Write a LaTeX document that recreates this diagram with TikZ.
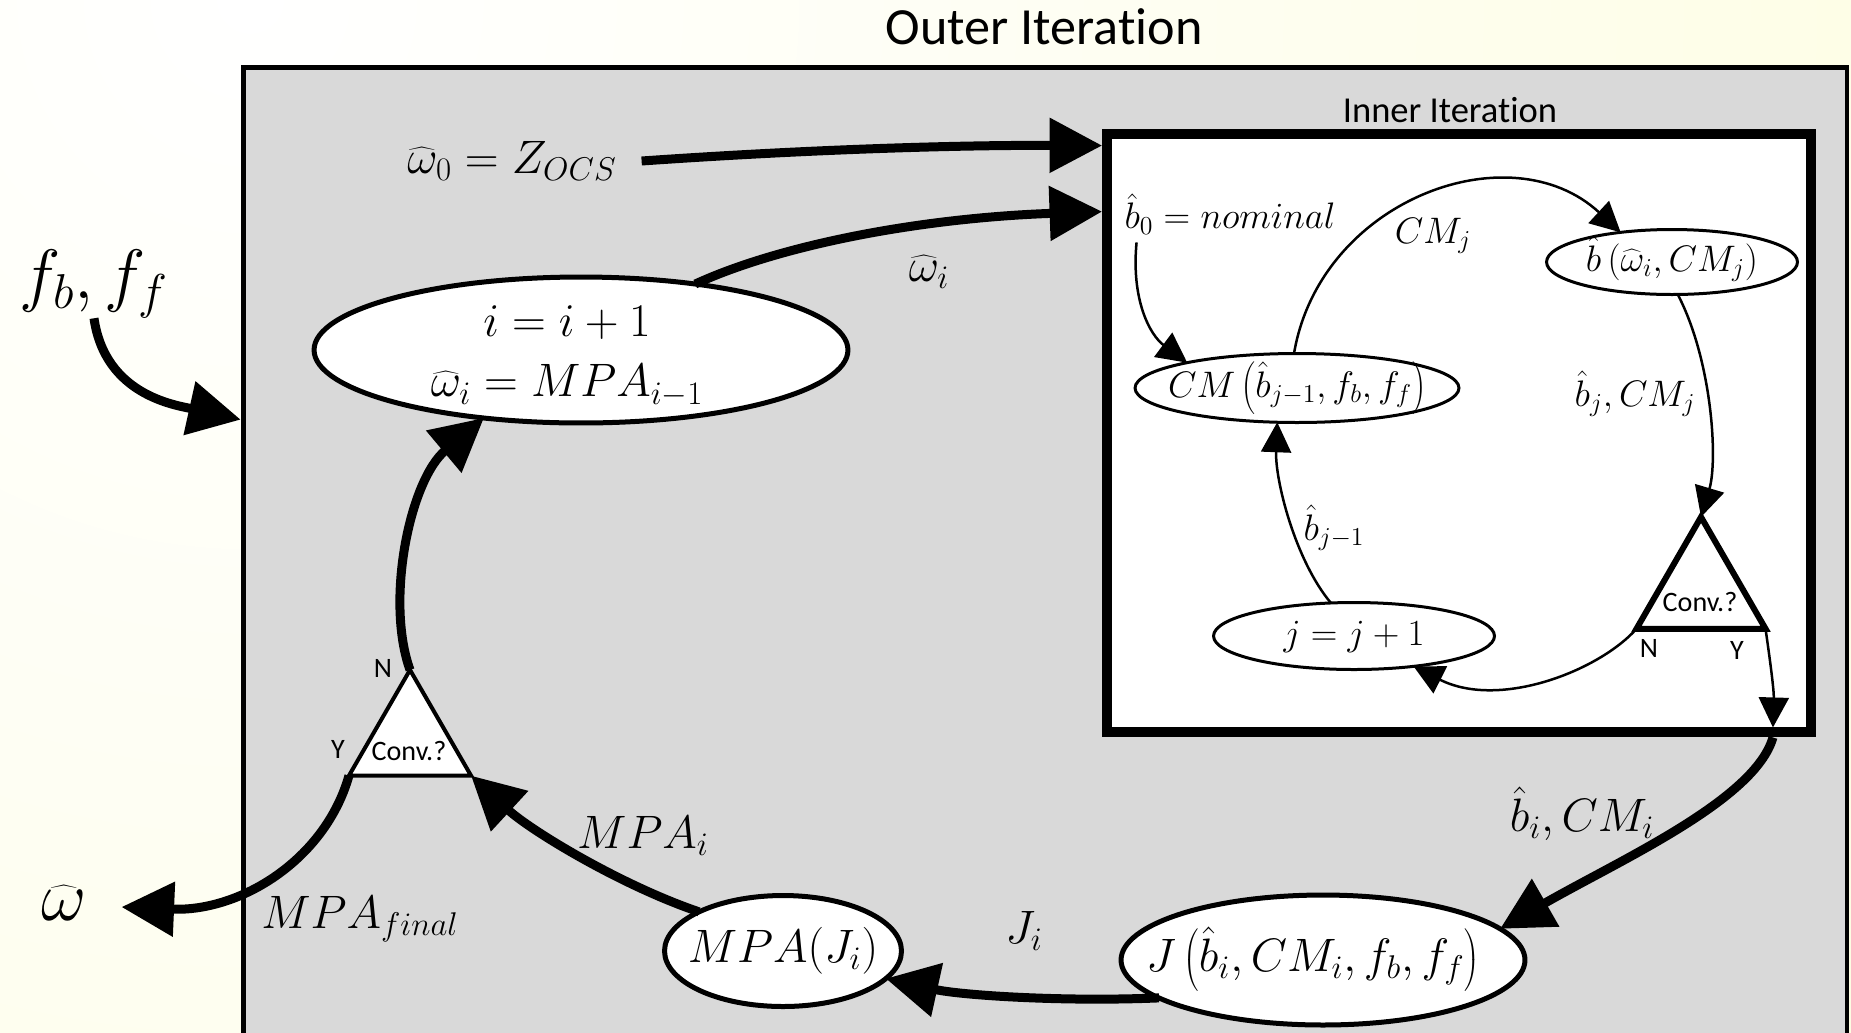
\RequirePackage{fix-cm}
\documentclass[tikz,border=0pt]{standalone}
\usepackage[no-math]{fontspec}
\newfontfamily\carl[Ligatures=NoCommon]{Carlito}
\usetikzlibrary{arrows.meta,shapes.geometric,calc}
\definecolor{boxgray}{RGB}{217,217,217}
\definecolor{bgyellow}{RGB}{253,253,222}
\newcommand\mOut{\fontsize{26.7}{30.7}\selectfont}
\newcommand\mOutTwo{\fontsize{26.7}{34.7}\selectfont}
\newcommand\mIn{\fontsize{21}{25}\selectfont}
\newcommand\mBig{\fontsize{39.8}{48}\selectfont}
\newcommand\sTitle{\carl\fontsize{29.7}{34}\selectfont}
\newcommand\sSub{\carl\fontsize{20.8}{24}\selectfont}
\newcommand\sTiny{\carl\fontsize{16}{19}\selectfont}
% formula that takes no room, so the ellipse keeps its set size;
% the optional argument moves it left by half its value
\newcommand\ctr[2][0pt]{\smash{\makebox[0pt]{\raisebox{-0.25em}{$#2$}\kern#1}}}

\begin{document}
\begin{tikzpicture}[x=0.02cm,y=-0.02cm,
  lbl/.style={inner sep=0,outer sep=0},
  outell/.style={ellipse,draw,fill=white,line width=0.1cm,inner sep=0,outer sep=0,font=\mOut},
  inell/.style={ellipse,draw,fill=white,line width=0.06cm,inner sep=0,outer sep=0,font=\mIn},
  decide/.style={regular polygon,regular polygon sides=3,draw,fill=white,inner sep=0,outer sep=0},
  bigarrow/.style={line width=0.18cm,-{Triangle[length=1.05cm,width=1.06cm]}},
  smallarrow/.style={line width=0.05cm,-{Triangle[length=0.6cm,width=0.6cm]}}]

\useasboundingbox (0,0) rectangle (1851,1032);
\clip (0,0) rectangle (1851,1032);

% pale yellow backdrop, lighter towards the upper left
\fill[bgyellow] (0,0) rectangle (1851,1032);
\shade[inner color=white,outer color=bgyellow] (250,0) circle (2200);

% outer iteration frame
\node[draw,line width=0.09cm,fill=boxgray,minimum width=32.07cm,minimum height=19.85cm,
      inner sep=0,outer sep=0] (outer) at (1045.25,563.75) {};
\node[lbl,font=\sTitle] (title) at (1044,27) {Outer Iteration};

% inner iteration frame
\node[draw,line width=0.2cm,fill=white,minimum width=14.08cm,minimum height=11.98cm,
      inner sep=0,outer sep=0] (inner) at (1459,433) {};
\node[lbl,font=\sSub] (ititle) at (1450,110) {Inner Iteration};

% outer loop nodes
\node[outell,minimum width=10.68cm,minimum height=2.92cm] (e1) at (581,350) {};
\node[lbl,font=\mOutTwo,align=center] (e1txt) at ([shift={(-14,6)}]e1.center)
  {$i=i+1$\\$\widehat{\omega}_i=MPA_{i-1}$};
\node[outell,minimum width=4.74cm,minimum height=2.22cm] (e2) at (783,951) {\ctr{MPA(J_i)}};
\node[outell,minimum width=8.08cm,minimum height=2.6cm] (e3) at (1323,960)
  {\ctr[0.4cm]{J\left(\hat{b}_i,CM_i,f_b,f_f\right)}};
\node[decide,line width=0.08cm,minimum size=2.82cm] (t1) at (410,740.4) {};
\node[lbl,font=\sTiny] (t1txt) at (409,751) {Conv.?};
\node[lbl,font=\sTiny] (t1n) at (383,668) {N};
\node[lbl,font=\sTiny] (t1y) at (338,749) {Y};

% inner loop nodes
\node[inell,minimum width=6.48cm,minimum height=1.38cm] (i1) at (1297,388)
  {\ctr{CM\left(\hat{b}_{j-1},f_b,f_f\right)}};
\node[inell,minimum width=5.02cm,minimum height=1.3cm] (i2) at (1672,262)
  {\ctr{\hat{b}\left(\widehat{\omega}_i,CM_j\right)}};
\node[inell,minimum width=5.62cm,minimum height=1.34cm] (i3) at (1354,636) {\ctr{j=j+1}};
\node[decide,line width=0.12cm,minimum size=2.98cm] (t2) at (1701,591.5) {};
\node[lbl,font=\sTiny] (t2txt) at (1700,602) {Conv.?};
\node[lbl,font=\sTiny] (t2n) at (1649,648) {N};
\node[lbl,font=\sTiny] (t2y) at (1737,650) {Y};

% free labels
\node[lbl,font=\mBig] (fb) at (94,284) {$f_b,f_f$};
\node[lbl,font=\mBig] (what) at (64,903) {$\widehat{\omega}$};
\node[lbl,font=\mOut] (w0) at (512,161) {$\widehat{\omega}_0=Z_{OCS}$};
\node[lbl,font=\mOut] (lwi) at (929,272) {$\widehat{\omega}_i$};
\node[lbl,font=\mOut] (lmpai) at (643,836) {$MPA_i$};
\node[lbl,font=\mOut] (lmpaf) at (360,919) {$MPA_{final}$};
\node[lbl,font=\mOut] (lji) at (1024,931) {$J_i$};
\node[lbl,font=\mOut] (lbi) at (1582,814) {$\hat{b}_i,CM_i$};
\node[lbl,font=\mIn] (b0) at (1230,214) {$\hat{b}_0=nominal$};
\node[lbl,font=\mIn] (lcmj) at (1433,236) {$CM_j$};
\node[lbl,font=\mIn] (lbj) at (1635,394) {$\hat{b}_j,CM_j$};
\node[lbl,font=\mIn] (lbj1) at (1334,528) {$\hat{b}_{j-1}$};

% outer loop connectors
\draw[bigarrow] (fb.south) .. controls (105,395) and (175,405) .. ($(outer.north west)+(-3,352)$);
\draw[bigarrow] ($(w0.east)+(25,0)$) .. controls (800,150) and (950,145) .. ($(inner.north west)+(-5,12)$);
\draw[bigarrow] (e1.30) .. controls (780,245) and (920,218) .. ($(inner.north west)+(-5,78)$);
\draw[bigarrow] ($(inner.south east)+(-38,5)$) .. controls (1755,800) and (1620,860) .. (e3.10);
\draw[bigarrow] (e3.-167) .. controls (1060,1002) and (960,995) .. (e2.-15);
\draw[bigarrow] (e2.155) .. controls (620,885) and (530,830) .. (t1.corner 3);
\draw[bigarrow] (t1.corner 1) .. controls (385,600) and (410,480) .. (e1.-145);
\draw[bigarrow] (t1.corner 2) .. controls (325,860) and (240,912) .. ($(what.east)+(35,4)$);

% inner loop connectors
\draw[smallarrow] ($(b0.south west)+(12,8)$) .. controls (1131,300) and (1150,335) .. (i1.167);
\draw[smallarrow] (i1.95) .. controls (1320,200) and (1510,130) .. (i2.150);
\draw[smallarrow] (i2.-80) .. controls (1712,360) and (1718,460) .. (t2.corner 1);
\draw[smallarrow] (t2.corner 2) .. controls (1600,670) and (1500,710) .. (i3.-27);
\draw[smallarrow] (i3.125) .. controls (1295,560) and (1275,480) .. (i1.-120);
\draw[smallarrow] (t2.corner 3) .. controls (1770,660) and (1774,690) .. ($(inner.south east)+(-38,-5)$);
\end{tikzpicture}
\end{document}
